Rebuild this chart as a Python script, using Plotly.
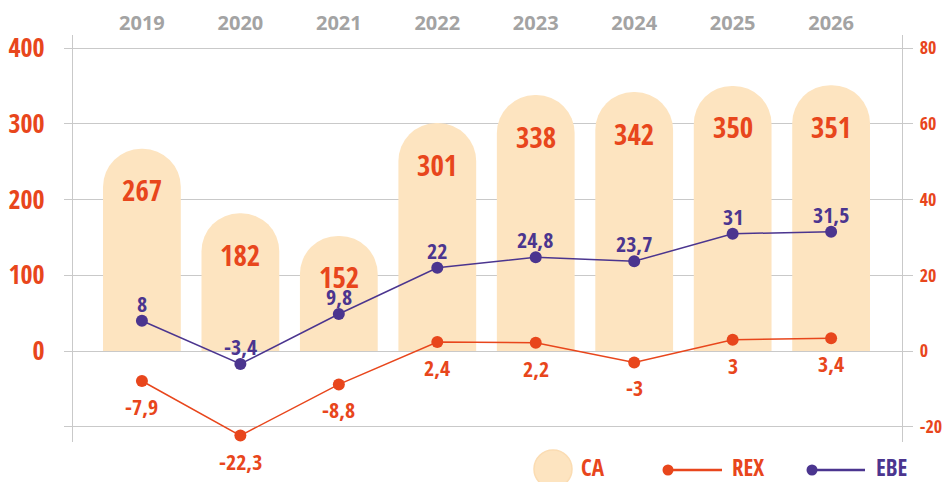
import plotly.graph_objects as go

years = ["2019", "2020", "2021", "2022", "2023", "2024", "2025", "2026"]
ca = [267, 182, 152, 301, 338, 342, 350, 351]
rex = [-7.9, -22.3, -8.8, 2.4, 2.2, -3, 3, 3.4]
ebe = [8, -3.4, 9.8, 22, 24.8, 23.7, 31, 31.5]
left_ticks = [-100, 0, 100, 200, 300, 400]
right_ticks = [-20, 0, 20, 40, 60, 80]

ORANGE = "#e8461c"
PURPLE = "#4b358f"
PEACH = "#fde4c0"
GRID = "#c9c9c9"
GRAYTXT = "#a3a3a3"
NARROW = "Open Sans Condensed, Roboto Condensed, sans-serif"


def nfont(size, color, bold=True):
    return dict(family=NARROW, size=size, color=color, weight="bold" if bold else "normal")


def fmt(v):
    return f"{v:g}".replace(".", ",").replace("\u2212", "-")


fig = go.Figure()
fig.add_trace(go.Bar(x=years, y=ca, width=0.79, marker=dict(color=PEACH, cornerradius="50%", line=dict(width=0)),
                     showlegend=False, hoverinfo="skip"))
fig.add_trace(go.Scatter(x=years, y=rex, yaxis="y2", mode="lines+markers",
                         line=dict(color=ORANGE, width=1.5), marker=dict(color=ORANGE, size=12),
                         showlegend=False))
fig.add_trace(go.Scatter(x=years, y=ebe, yaxis="y2", mode="lines+markers",
                         line=dict(color=PURPLE, width=1.5), marker=dict(color=PURPLE, size=12),
                         showlegend=False))

ann = []
for i, v in enumerate(ca):
    ann.append(dict(x=i, y=v, xref="x", yref="y", text=fmt(v), showarrow=False, yshift=-41,
                    font=nfont(29, ORANGE)))
for i, v in enumerate(ebe):
    ann.append(dict(x=i, y=v, xref="x", yref="y2", text=fmt(v), showarrow=False, yshift=18,
                    font=nfont(22, PURPLE)))
for i, v in enumerate(rex):
    ann.append(dict(x=i, y=v, xref="x", yref="y2", text=fmt(v), showarrow=False, yshift=-25,
                    font=nfont(22, ORANGE)))

# manual legend (paper coordinates)
L, R, T, B = 73, 902, 35, 442
W, H = R - L, B - T


def px(x):
    return (x - L) / W


def py(y):
    return (B - y) / H


shapes = [
    dict(type="circle", xref="paper", yref="paper", xsizemode="pixel", ysizemode="pixel",
         xanchor=px(553), yanchor=py(469), x0=-19, x1=19, y0=-19, y1=19,
         fillcolor=PEACH, line=dict(color="#fbdcb2", width=1.5)),
    dict(type="line", xref="paper", yref="paper", x0=px(668), x1=px(722), y0=py(470), y1=py(470),
         line=dict(color=ORANGE, width=2.5)),
    dict(type="circle", xref="paper", yref="paper", xsizemode="pixel", ysizemode="pixel",
         xanchor=px(668), yanchor=py(470), x0=-5.5, x1=5.5, y0=-5.5, y1=5.5,
         fillcolor=ORANGE, line=dict(width=0)),
    dict(type="line", xref="paper", yref="paper", x0=px(812), x1=px(865), y0=py(470), y1=py(470),
         line=dict(color=PURPLE, width=2.5)),
    dict(type="circle", xref="paper", yref="paper", xsizemode="pixel", ysizemode="pixel",
         xanchor=px(812), yanchor=py(470), x0=-5.5, x1=5.5, y0=-5.5, y1=5.5,
         fillcolor=PURPLE, line=dict(width=0)),
]
for label, x, col in [("CA", 579, ORANGE), ("REX", 730, ORANGE), ("EBE", 874, PURPLE)]:
    ann.append(dict(xref="paper", yref="paper", x=px(x), y=py(467), xanchor="left", yanchor="middle",
                    text=label, showarrow=False, font=nfont(23, col)))

fig.update_layout(
    width=943, height=482,
    margin=dict(l=L, r=943 - R, t=T, b=482 - B, autoexpand=False),
    paper_bgcolor="white", plot_bgcolor="white",
    showlegend=False,
    annotations=ann, shapes=shapes,
    xaxis=dict(type="category", side="top", range=[-0.7, 7.72], showgrid=False, showline=False,
               ticks="", automargin=False,
               tickfont=dict(family="Open Sans, Lato, sans-serif", size=20, color=GRAYTXT, weight="bold"),
               zeroline=False),
    yaxis=dict(range=[-120, 417.3], tickvals=left_ticks,
               ticktext=["" if t < 0 else str(t) for t in left_ticks], automargin=False,
               showgrid=True, gridcolor=GRID, gridwidth=1.3, zeroline=False,
               showline=True, linecolor=GRID, linewidth=1.3,
               ticks="outside", ticklen=8, tickcolor=GRID, tickwidth=1.3, ticklabelstandoff=14,
               tickfont=nfont(26, ORANGE)),
    yaxis2=dict(range=[-24, 83.46], overlaying="y", side="right", tickvals=right_ticks,
                ticktext=[fmt(t) for t in right_ticks], automargin=False,
                showgrid=False, zeroline=False,
                showline=True, linecolor=GRID, linewidth=1.3,
                ticks="outside", ticklen=10, tickcolor=GRID, tickwidth=1.3, ticklabelstandoff=3,
                tickfont=nfont(18, ORANGE, bold=False)),
)

fig.write_html("out.html")
